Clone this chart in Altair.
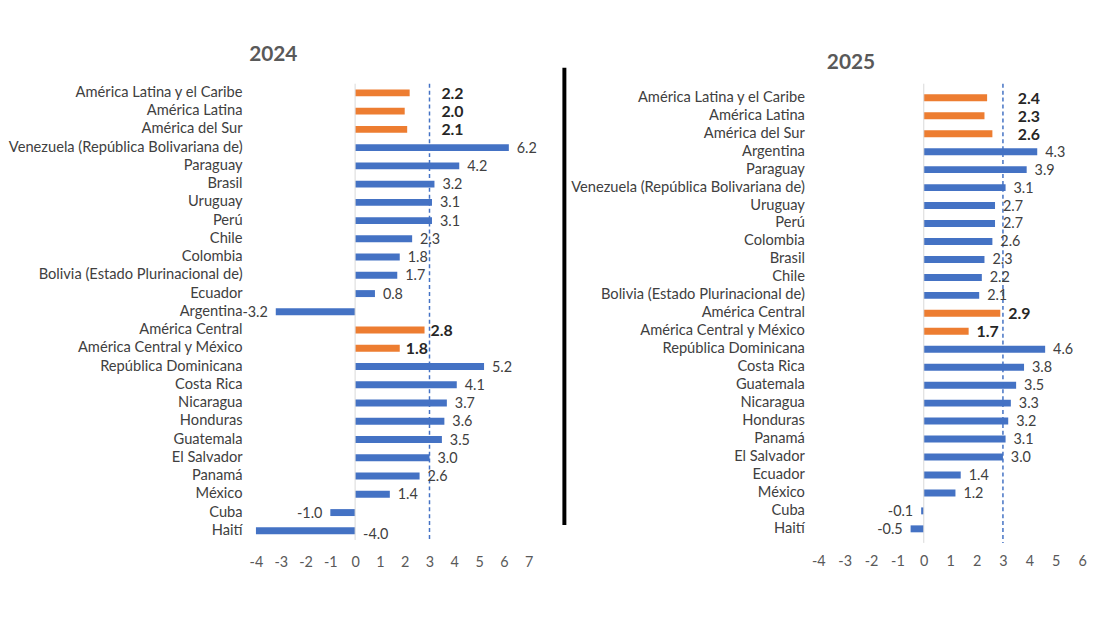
import altair as alt
import pandas as pd

# ---------------- data ----------------
cats_2024 = [
    "América Latina y el Caribe", "América Latina", "América del Sur",
    "Venezuela (República Bolivariana de)", "Paraguay", "Brasil", "Uruguay", "Perú",
    "Chile", "Colombia", "Bolivia (Estado Plurinacional de)", "Ecuador", "Argentina",
    "América Central", "América Central y México", "República Dominicana", "Costa Rica",
    "Nicaragua", "Honduras", "Guatemala", "El Salvador", "Panamá", "México", "Cuba", "Haití",
]
vals_2024 = [2.2, 2.0, 2.1, 6.2, 4.2, 3.2, 3.1, 3.1, 2.3, 1.8, 1.7, 0.8, -3.2,
             2.8, 1.8, 5.2, 4.1, 3.7, 3.6, 3.5, 3.0, 2.6, 1.4, -1.0, -4.0]

cats_2025 = [
    "América Latina y el Caribe", "América Latina", "América del Sur",
    "Argentina", "Paraguay", "Venezuela (República Bolivariana de)", "Uruguay", "Perú",
    "Colombia", "Brasil", "Chile", "Bolivia (Estado Plurinacional de)",
    "América Central", "América Central y México", "República Dominicana", "Costa Rica",
    "Guatemala", "Nicaragua", "Honduras", "Panamá", "El Salvador", "Ecuador", "México",
    "Cuba", "Haití",
]
vals_2025 = [2.4, 2.3, 2.6, 4.3, 3.9, 3.1, 2.7, 2.7, 2.6, 2.3, 2.2, 2.1,
             2.9, 1.7, 4.6, 3.8, 3.5, 3.3, 3.2, 3.1, 3.0, 1.4, 1.2, -0.1, -0.5]

regional_top = ["América Latina y el Caribe", "América Latina", "América del Sur"]
regional_central = ["América Central", "América Central y México"]
zero_side_2024 = ["Haití"]
zero_side_2025 = []
reference_value = 3
x_ticks_2024 = [-4, -3, -2, -1, 0, 1, 2, 3, 4, 5, 6, 7]
x_ticks_2025 = [-4, -3, -2, -1, 0, 1, 2, 3, 4, 5, 6]

BLUE = "#4472C4"
ORANGE = "#ED7D31"
FONT = "Lato"
LABEL_COLOR = "#404040"
TICK_COLOR = "#595959"
BOLD_COLOR = "#262626"


def make_df(cats, vals, zero_side):
    rows = []
    for c, v in zip(cats, vals):
        if c in regional_top:
            kind = "top"
        elif c in regional_central:
            kind = "central"
        elif c in zero_side:
            kind = "zero"
        elif v < 0:
            kind = "neg"
        else:
            kind = "pos"
        rows.append(dict(cat=c, val=v, label=f"{v:.1f}", kind=kind, ref=reference_value,
                         zero=0,
                         grp="region" if kind in ("top", "central") else "country"))
    return pd.DataFrame(rows)


def panel(df, cats, year, ticks, width, height, pad_outer, x_label_pad,
          title_dx, title_offset, top_dx, agg_dx):
    xscale = alt.Scale(domain=[ticks[0], ticks[-1]], nice=False, zero=False)
    xaxis = alt.Axis(values=ticks, tickCount=len(ticks), title=None, ticks=False,
                     domain=False, grid=False, labelPadding=x_label_pad,
                     labelFontSize=14.5, labelFont=FONT, labelColor=TICK_COLOR,
                     labelOverlap=False, labelFlush=False, labelSeparation=0,
                     labelExpr="'' + datum.value")

    def xq(field):
        return alt.X(field, scale=xscale, axis=xaxis)

    yenc = alt.Y("cat:N", sort=cats,
                 scale=alt.Scale(paddingInner=0, paddingOuter=pad_outer),
                 axis=alt.Axis(title=None, ticks=False, domain=False, grid=False,
                               labelPadding=14, labelFontSize=14.8, labelFont=FONT,
                               labelColor=LABEL_COLOR, labelLimit=0,
                               labelOverlap=False))
    base = alt.Chart(df)

    bars = base.mark_bar(size=7).encode(
        x=xq("val:Q"),
        x2="zero:Q",
        y=yenc,
        color=alt.Color("grp:N", scale=alt.Scale(domain=["country", "region"],
                                                 range=[BLUE, ORANGE]), legend=None),
    )

    zero = base.transform_filter(
        "datum.cat == '%s'" % regional_top[0]).mark_rule(
        color="#D9D9D9", strokeWidth=1).encode(x=xq("zero:Q"))

    ref = base.transform_filter("datum.cat == '%s'" % regional_top[0]).mark_rule(
        color=BLUE, strokeDash=[4, 3], strokeWidth=1.5).encode(x=xq("ref:Q"))

    txt_kw = dict(font=FONT, fontSize=14.5, color=LABEL_COLOR, baseline="middle", dy=1)
    pos = base.transform_filter("datum.kind == 'pos'").mark_text(
        align="left", dx=8, **txt_kw).encode(x=xq("val:Q"), y=yenc, text="label:N")
    neg = base.transform_filter("datum.kind == 'neg'").mark_text(
        align="right", dx=-8, **txt_kw).encode(x=xq("val:Q"), y=yenc, text="label:N")
    zer = base.transform_filter("datum.kind == 'zero'").mark_text(
        align="left", dx=8, font=FONT, fontSize=14.5, color=LABEL_COLOR,
        baseline="middle", dy=4).encode(x=xq("zero:Q"), y=yenc, text="label:N")
    bold_kw = dict(font=FONT, fontSize=16, fontWeight="bold", color=BOLD_COLOR,
                   baseline="middle", dy=1, align="left")
    top = base.transform_filter("datum.kind == 'top'").mark_text(
        dx=top_dx, **bold_kw).encode(x=xq("ref:Q"), y=yenc, text="label:N")
    cen = base.transform_filter("datum.kind == 'central'").mark_text(
        dx=agg_dx, **bold_kw).encode(x=xq("val:Q"), y=yenc, text="label:N")

    return alt.layer(bars, zero, ref, pos, neg, zer, top, cen).properties(
        width=width, height=height,
        title=alt.TitleParams(text=year, font=FONT, fontSize=21, fontWeight="bold",
                              color=TICK_COLOR, anchor="middle", dx=title_dx,
                              offset=title_offset),
    )


left = panel(make_df(cats_2024, vals_2024, zero_side_2024), cats_2024, "2024",
             x_ticks_2024, 275, 460, 0, 16, -120, 18, 12, 6)
right = panel(make_df(cats_2025, vals_2025, zero_side_2025), cats_2025, "2025",
              x_ticks_2025, 266, 463, 0.284, 12, -100, 10, 15, 8)

sep = alt.Chart(pd.DataFrame({"s": [0]})).mark_rule(
    color="black", strokeWidth=4).encode(
    x=alt.value(36), y=alt.value(-16), y2=alt.value(445)
).properties(width=292, height=460)

chart = alt.hconcat(left, sep, right, spacing=0, bounds="flush").configure_view(
    stroke=None
).configure_axis(labelOverlap=False).properties(
    padding={"left": 0, "top": 34, "right": 5, "bottom": 5})

chart.save("out.html", embed_options={"renderer": "svg", "actions": False})
